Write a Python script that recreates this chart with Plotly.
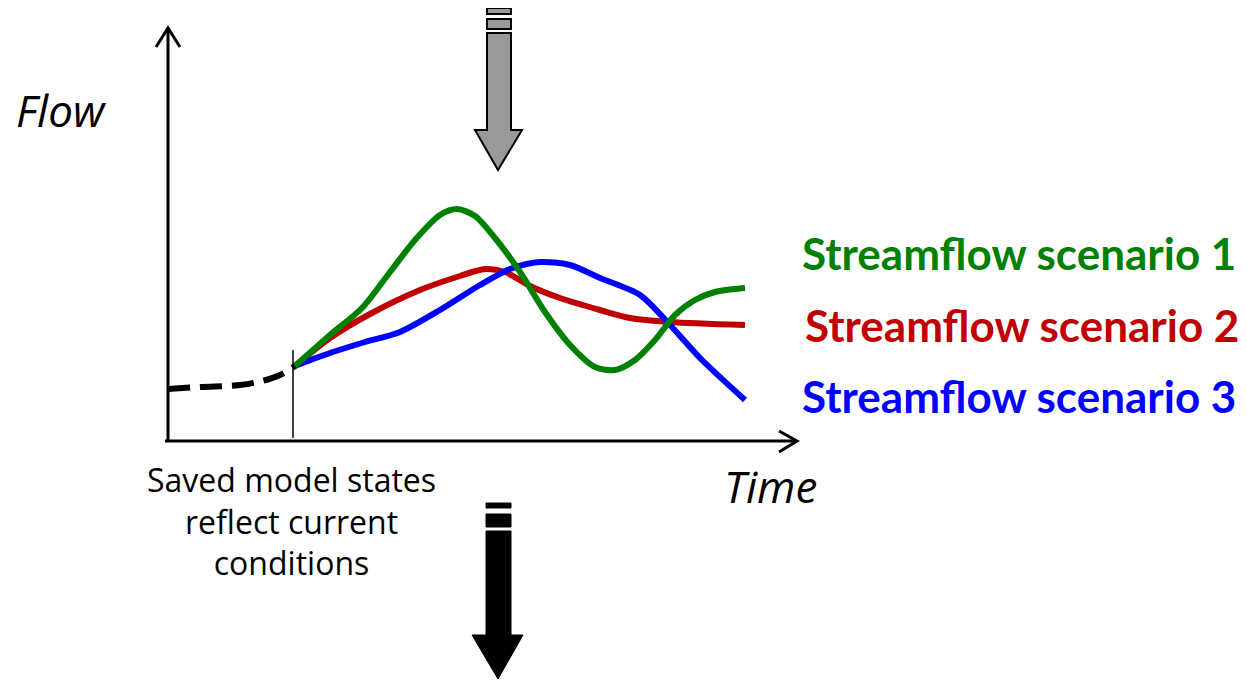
import plotly.graph_objects as go

# Series (read in picture coordinates: x = time position, y = flow position from top)
hist_t = [168, 200, 240, 262, 280, 295]
hist_q = [389, 387, 385, 381, 375, 366]

s1_t = [295, 330, 362, 390, 415, 440, 457, 475, 495, 520, 545, 570, 595, 615, 635, 655, 675, 695, 715, 745]
s1_q = [366, 335, 308, 272, 240, 215, 209, 216, 238, 272, 312, 345, 367, 370, 360, 340, 315, 300, 292, 288]

s2_t = [295, 330, 370, 420, 460, 485, 505, 530, 560, 600, 630, 670, 745]
s2_q = [366, 338, 314, 290, 276, 269, 272, 286, 298, 310, 318, 322, 325]

s3_t = [295, 330, 365, 400, 440, 480, 510, 540, 570, 600, 640, 670, 700, 745]
s3_q = [366, 353, 342, 332, 310, 285, 269, 262, 265, 278, 295, 325, 358, 400]

scenario_names = ["Streamflow scenario 1", "Streamflow scenario 2", "Streamflow scenario 3"]
scenario_colors = ["#008000", "#c00000", "#0000ff"]

OFF = 8  # browser body margin compensation

fig = go.Figure()

fig.add_trace(go.Scatter(x=hist_t, y=hist_q, mode="lines",
                         line=dict(color="black", width=6, dash="22px,10px", shape="spline"),
                         hoverinfo="skip", showlegend=False))
for t, q, c in [(s2_t, s2_q, scenario_colors[1]), (s3_t, s3_q, scenario_colors[2]), (s1_t, s1_q, scenario_colors[0])]:
    fig.add_trace(go.Scatter(x=t, y=q, mode="lines",
                             line=dict(color=c, width=6, shape="spline", smoothing=0.8),
                             hoverinfo="skip", showlegend=False))

shapes = []
# axes
shapes.append(dict(type="line", x0=168, y0=441, x1=168, y1=29, line=dict(color="black", width=3)))
shapes.append(dict(type="line", x0=165, y0=441, x1=796, y1=441, line=dict(color="black", width=3)))
shapes.append(dict(type="path", path="M 156 47 L 168 28 L 180 47", line=dict(color="black", width=3)))
shapes.append(dict(type="path", path="M 779 431 L 797 441 L 779 452", line=dict(color="black", width=3)))
# thin vertical marker
shapes.append(dict(type="line", x0=293, y0=350, x1=293, y1=438, line=dict(color="black", width=1.5)))
# grey arrow
shapes.append(dict(type="rect", x0=487, y0=8, x1=511, y1=14, fillcolor="#999999", line=dict(color="black", width=2)))
shapes.append(dict(type="rect", x0=487, y0=19, x1=511, y1=29, fillcolor="#999999", line=dict(color="black", width=2)))
shapes.append(dict(type="path", path="M 487 33 L 511 33 L 511 130 L 522 130 L 498 170 L 475 130 L 487 130 Z",
                   fillcolor="#999999", line=dict(color="black", width=2)))
# black arrow
shapes.append(dict(type="rect", x0=486, y0=503, x1=511, y1=508, fillcolor="black", line=dict(color="black", width=1)))
shapes.append(dict(type="rect", x0=486, y0=514, x1=511, y1=527, fillcolor="black", line=dict(color="black", width=1)))
shapes.append(dict(type="path", path="M 486 531 L 511 531 L 511 635 L 523 635 L 498 679 L 472 635 L 486 635 Z",
                   fillcolor="black", line=dict(color="black", width=1)))

annotations = [
    dict(x=14, y=110, text="<i>Flow</i>", showarrow=False, xanchor="left", yanchor="middle",
         font=dict(family="Open Sans", size=44, color="black")),
    dict(x=722, y=486, text="<i>Time</i>", showarrow=False, xanchor="left", yanchor="middle",
         font=dict(family="Open Sans", size=44, color="black")),
    dict(x=291, y=521, text="Saved model states<br>reflect current<br>conditions", showarrow=False,
         xanchor="center", yanchor="middle", align="center",
         font=dict(family="Open Sans", size=32, color="black")),
]
for name, c, yy, xx in zip(scenario_names, scenario_colors, [253, 325, 396], [800, 803, 800]):
    annotations.append(dict(x=xx, y=yy, text="<b>" + name + "</b>", showarrow=False,
                            xanchor="left", yanchor="middle",
                            font=dict(family="Lato", size=44, color=c)))

fig.update_layout(
    width=1247 - OFF, height=681 - OFF, margin=dict(l=0, r=0, t=0, b=0),
    paper_bgcolor="white", plot_bgcolor="white",
    xaxis=dict(range=[OFF, 1247], visible=False, fixedrange=True),
    yaxis=dict(range=[681, OFF], visible=False, fixedrange=True),
    shapes=shapes, annotations=annotations, showlegend=False,
)
fig.write_html("out.html", config={"displayModeBar": False})
